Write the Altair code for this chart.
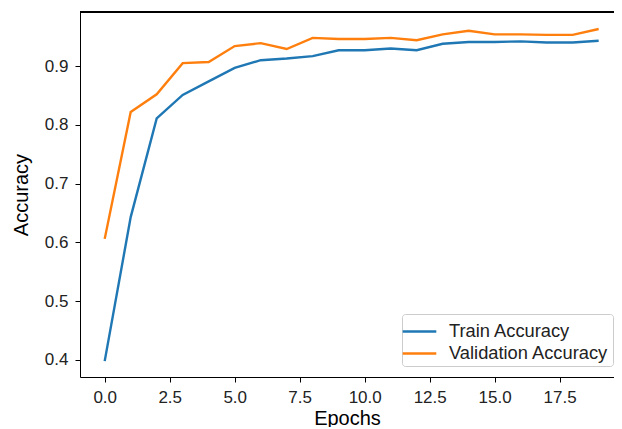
import altair as alt
import pandas as pd

epochs = list(range(20))
train_acc = [0.398, 0.643, 0.811, 0.851, 0.874, 0.897, 0.910, 0.913, 0.917, 0.927,
             0.927, 0.930, 0.927, 0.938, 0.941, 0.941, 0.942, 0.940, 0.940, 0.943]
val_acc = [0.606, 0.822, 0.852, 0.905, 0.907, 0.934, 0.939, 0.929, 0.948, 0.946,
           0.946, 0.948, 0.944, 0.954, 0.960, 0.954, 0.954, 0.953, 0.953, 0.963]
series = ["Train Accuracy", "Validation Accuracy"]
colors = ["#1f77b4", "#ff7f0e"]

rows = []
for e, t, v in zip(epochs, train_acc, val_acc):
    rows.append({"epoch": e, "acc": t, "series": series[0]})
    rows.append({"epoch": e, "acc": v, "series": series[1]})
df = pd.DataFrame(rows)

font = "Liberation Sans"
W, H = 534, 365

axis_common = dict(grid=False, domainColor="black", tickColor="black",
                   tickSize=5, labelFontSize=17, labelColor="#222222",
                   labelFont=font, titleFont=font, titleFontSize=20,
                   titleFontWeight="normal", titleColor="black", labelFlush=False)

lines = alt.Chart(df).mark_line(strokeWidth=2.4).encode(
    x=alt.X("epoch:Q", title="Epochs",
            scale=alt.Scale(domain=[-0.95, 19.59], nice=False, zero=False),
            axis=alt.Axis(values=[0, 2.5, 5, 7.5, 10, 12.5, 15, 17.5], format=".1f",
                          labelPadding=7, titlePadding=3, **axis_common)),
    y=alt.Y("acc:Q", title="Accuracy",
            scale=alt.Scale(domain=[0.371, 0.992], nice=False, zero=False),
            axis=alt.Axis(values=[0.4, 0.5, 0.6, 0.7, 0.8, 0.9], format=".1f",
                          labelPadding=7, titlePadding=13, **axis_common)),
    color=alt.Color("series:N", sort=series,
                    scale=alt.Scale(domain=series, range=colors),
                    legend=alt.Legend(title=None, orient="none", legendX=322, legendY=302,
                                      symbolType="M-1.4,0L1.4,0", symbolStrokeWidth=2.4,
                                      symbolSize=576, labelFontSize=18.3, labelFont=font,
                                      labelColor="#222222", strokeColor="#cccccc",
                                      fillColor="white", cornerRadius=3, padding=4,
                                      rowPadding=0, labelOffset=16)),
)

top_border = alt.Chart(df).mark_rule(color="black", strokeWidth=1).encode(
    x=alt.value(0), x2=alt.value(W), y=alt.value(0)
)

chart = alt.layer(top_border, lines).properties(
    width=W, height=H,
    autosize=alt.AutoSizeParams(type="none"),
    padding={"left": 72, "top": 4, "right": 0, "bottom": 50},
).configure_view(stroke=None)

chart.save("out.html", embed_options={"renderer": "svg", "actions": False})
